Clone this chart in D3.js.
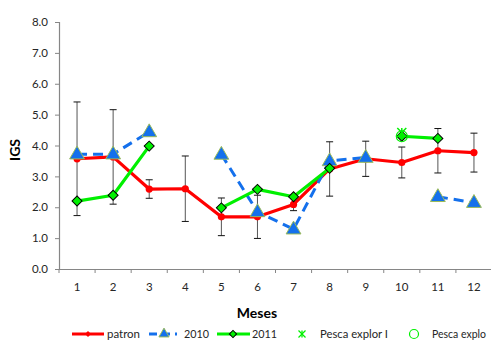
<!DOCTYPE html>
<html>
<head>
<meta charset="utf-8">
<script src="https://cdn.jsdelivr.net/npm/d3@7"></script>
<style>
  html, body { margin: 0; padding: 0; background: #fff; }
  svg { display: block; font-family: Lato, "Liberation Sans", sans-serif; }
</style>
</head>
<body>
<svg id="chart" width="491" height="354"></svg>
<script>
// Months on the category axis
const months = [1, 2, 3, 4, 5, 6, 7, 8, 9, 10, 11, 12];
const yTicks = [0, 1, 2, 3, 4, 5, 6, 7, 8];

// Monthly IGS values per series (null = no sample)
const patron    = [3.57, 3.63, 2.59, 2.60, 1.69, 1.69, 2.09, 3.24, 3.57, 3.45, 3.83, 3.77];
const patronErr = [1.84, 1.53, 0.30, 1.06, 0.61, 0.70, 0.20, 0.88, 0.57, 0.50, 0.72, 0.63];
const y2010     = [3.72, 3.72, 4.44, null, 3.71, 1.85, 1.29, 3.50, 3.61, null, 2.34, 2.15];
const y2011     = [2.20, 2.39, 3.98, null, 1.98, 2.58, 2.34, 3.26, null, 4.30, 4.23, null];
const pescaI    = [null, null, null, null, null, null, null, null, null, 4.42, null, null];
const pescaII   = [null, null, null, null, null, null, null, null, null, 4.30, null, null];

const svg = d3.select("#chart");
const plotLeft = 59, plotRight = 492, plotTop = 22, plotBottom = 269;

const x = d3.scaleBand().domain(months).range([plotLeft, plotRight]).paddingInner(0).paddingOuter(0);
const y = d3.scaleLinear().domain([0, 8]).range([plotBottom, plotTop]);
const cx = m => x(m) + x.bandwidth() / 2;

const axisColor = "#868686";
const textColor = "#262626";

// Y axis
const yAxis = svg.append("g").attr("transform", `translate(${plotLeft},0)`)
  .call(d3.axisLeft(y).tickValues(yTicks).tickFormat(d3.format(".1f")).tickSize(4).tickPadding(7));
yAxis.select(".domain").attr("stroke", axisColor).attr("stroke-width", 1.2);
yAxis.selectAll(".tick line").attr("stroke", axisColor);
yAxis.selectAll(".tick text").attr("fill", textColor).attr("font-size", 11.5).attr("font-family", "Lato");

// X axis: ticks sit on the boundaries between months
const xAxis = svg.append("g").attr("transform", `translate(0,${plotBottom})`)
  .call(d3.axisBottom(x).tickSize(0).tickPadding(14));
xAxis.select(".domain").attr("stroke", axisColor).attr("stroke-width", 1.2);
xAxis.selectAll(".tick text").attr("fill", textColor).attr("font-size", 11.5).attr("font-family", "Lato");
xAxis.selectAll("line.bound")
  .data(d3.range(0, months.length))
  .join("line")
  .attr("class", "bound")
  .attr("x1", i => plotLeft + i * x.step()).attr("x2", i => plotLeft + i * x.step())
  .attr("y1", 0).attr("y2", 4)
  .attr("stroke", axisColor);

// Axis titles
svg.append("text").attr("x", 257).attr("y", 318).attr("text-anchor", "middle")
  .attr("font-weight", "bold").attr("font-size", 14).attr("fill", "#000").text("Meses");
svg.append("text").attr("transform", "translate(20,150) rotate(-90)").attr("text-anchor", "middle")
  .attr("font-weight", "bold").attr("font-size", 14).attr("fill", "#000").text("IGS");

const lineGen = vals => d3.line()
  .defined((d, i) => vals[i] != null)
  .x((d, i) => cx(months[i]))
  .y((d, i) => y(vals[i]))(vals);

const red = "#FF0000", blue = "#1470EC", green = "#00F000";

// patron line
svg.append("path").attr("d", lineGen(patron)).attr("fill", "none")
  .attr("stroke", red).attr("stroke-width", 3.2).attr("stroke-linejoin", "round");

// patron error bars
const eb = svg.append("g").attr("stroke", "#111").attr("stroke-width", 1);
months.forEach((m, i) => {
  const hi = y(patron[i] + patronErr[i]), lo = y(patron[i] - patronErr[i]), c = cx(m);
  eb.append("line").attr("x1", c).attr("x2", c).attr("y1", hi).attr("y2", lo).attr("stroke", "#555");
  eb.append("line").attr("x1", c - 3.5).attr("x2", c + 3.5).attr("y1", hi).attr("y2", hi);
  eb.append("line").attr("x1", c - 3.5).attr("x2", c + 3.5).attr("y1", lo).attr("y2", lo);
});

// patron markers
svg.append("g").selectAll("circle").data(months.filter((m, i) => patron[i] != null)).join("circle")
  .attr("cx", m => cx(m)).attr("cy", m => y(patron[m - 1])).attr("r", 3.6).attr("fill", red);

// 2010 dashed line with triangles
svg.append("path").attr("d", lineGen(y2010)).attr("fill", "none")
  .attr("stroke", blue).attr("stroke-width", 3).attr("stroke-dasharray", "10,6");
const tri = d3.symbol().type(d3.symbolTriangle).size(95);
svg.append("g").selectAll("path").data(months.filter((m, i) => y2010[i] != null)).join("path")
  .attr("d", tri).attr("transform", m => `translate(${cx(m)},${y(y2010[m - 1]) + 0.5})`)
  .attr("fill", blue).attr("stroke", "#9BBB59").attr("stroke-width", 1);

// 2011 line with diamonds (squares turned 45°)
svg.append("path").attr("d", lineGen(y2011)).attr("fill", "none")
  .attr("stroke", green).attr("stroke-width", 3.2).attr("stroke-linejoin", "round");
const dia = d3.symbol().type(d3.symbolSquare).size(50);
svg.append("g").selectAll("path").data(months.filter((m, i) => y2011[i] != null)).join("path")
  .attr("d", dia).attr("transform", m => `translate(${cx(m)},${y(y2011[m - 1])}) rotate(45)`)
  .attr("fill", green).attr("stroke", "#000").attr("stroke-width", 1);

// Exploratory fishing markers
const asterisk = (sel, px, py, s, w) => {
  const g = sel.append("g").attr("stroke", green).attr("stroke-width", w);
  g.append("line").attr("x1", px - s).attr("x2", px + s).attr("y1", py - s).attr("y2", py + s);
  g.append("line").attr("x1", px - s).attr("x2", px + s).attr("y1", py + s).attr("y2", py - s);
  g.append("line").attr("x1", px).attr("x2", px).attr("y1", py - s).attr("y2", py + s);
};
months.forEach((m, i) => {
  if (pescaII[i] != null)
    svg.append("circle").attr("cx", cx(m)).attr("cy", y(pescaII[i])).attr("r", 5.5)
      .attr("fill", "none").attr("stroke", green).attr("stroke-width", 1.2);
  if (pescaI[i] != null) asterisk(svg, cx(m), y(pescaI[i]), 4.5, 1.5);
});

// Legend
const ly = 334;
const leg = svg.append("g").attr("font-size", 12).attr("fill", textColor);
const legText = (x0, w, label) => leg.append("text").attr("x", x0).attr("y", ly + 4)
  .attr("textLength", w).attr("lengthAdjust", "spacingAndGlyphs").text(label);

leg.append("line").attr("x1", 72).attr("x2", 104).attr("y1", ly).attr("y2", ly).attr("stroke", red).attr("stroke-width", 3);
leg.append("path").attr("d", d3.symbol().type(d3.symbolSquare).size(18)).attr("transform", `translate(88,${ly}) rotate(45)`).attr("fill", red);
legText(107, 33, "patron");

leg.append("line").attr("x1", 149).attr("x2", 177).attr("y1", ly).attr("y2", ly).attr("stroke", blue).attr("stroke-width", 3).attr("stroke-dasharray", "8,5");
leg.append("path").attr("d", d3.symbol().type(d3.symbolTriangle).size(45)).attr("transform", `translate(164,${ly})`).attr("fill", blue).attr("stroke", "#9BBB59");
legText(184, 25, "2010");

leg.append("line").attr("x1", 217).attr("x2", 250).attr("y1", ly).attr("y2", ly).attr("stroke", green).attr("stroke-width", 3);
leg.append("path").attr("d", d3.symbol().type(d3.symbolSquare).size(26)).attr("transform", `translate(233,${ly}) rotate(45)`).attr("fill", green).attr("stroke", "#000");
legText(252, 25, "2011");

asterisk(leg, 302, ly, 3.5, 1.3);
legText(320, 68, "Pesca explor I");

leg.append("circle").attr("cx", 414).attr("cy", ly).attr("r", 4.5).attr("fill", "none").attr("stroke", green).attr("stroke-width", 1.2);
legText(432, 54, "Pesca explo").attr("font-size", 10.5);
</script>
</body>
</html>
